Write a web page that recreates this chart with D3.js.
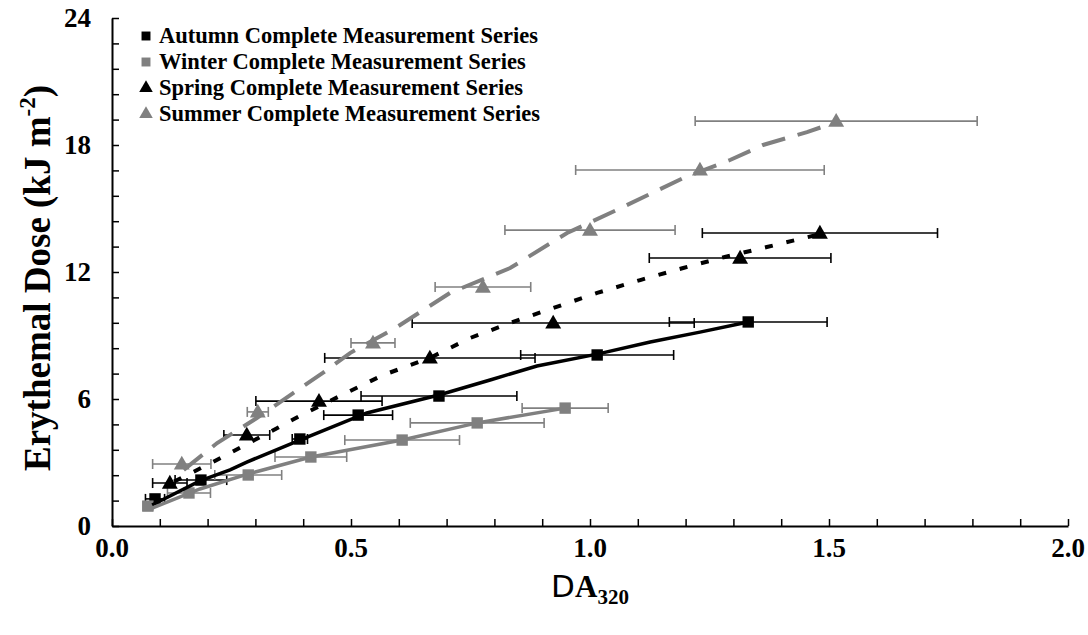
<!DOCTYPE html>
<html>
<head>
<meta charset="utf-8">
<script src="https://cdn.jsdelivr.net/npm/d3@7"></script>
<style>
  body { margin: 0; background: #fff; }
  svg { display: block; }
  text { font-family: "Liberation Serif", "Times New Roman", serif; font-weight: bold; }
</style>
</head>
<body>
<svg id="chart" width="1088" height="635"></svg>
<script>
// ---- data (DA320, dose kJ m-2, horizontal error half width) ----
var autumnX   = [0.090, 0.186, 0.393, 0.515, 0.684, 1.015, 1.331];
var autumnY   = [1.28, 2.17, 4.11, 5.24, 6.14, 8.08, 9.64];
var autumnErr = [0.02, 0.054, 0.016, 0.072, 0.163, 0.16, 0.165];

var winterX   = [0.075, 0.161, 0.285, 0.416, 0.607, 0.764, 0.948];
var winterY   = [0.94, 1.56, 2.41, 3.26, 4.06, 4.87, 5.57];
var winterErr = [0.01, 0.045, 0.07, 0.075, 0.12, 0.14, 0.09];

var springX   = [0.121, 0.282, 0.433, 0.665, 0.923, 1.314, 1.481];
var springY   = [2.03, 4.30, 5.90, 7.94, 9.59, 12.66, 13.84];
var springErr = [0.036, 0.048, 0.132, 0.22, 0.295, 0.19, 0.246];

var summerX   = [0.146, 0.305, 0.546, 0.776, 1.000, 1.230, 1.515];
var summerY   = [2.93, 5.39, 8.65, 11.29, 13.98, 16.82, 19.13];
var summerErr = [0.061, 0.022, 0.046, 0.10, 0.178, 0.26, 0.295];

// complete measurement series curves
var autumnLine = [[0.084,0.99],[0.184,2.13],[0.247,2.65],[0.282,3.02],[0.393,4.06],[0.533,5.34],[0.684,6.19],
  [0.791,6.90],[0.889,7.56],[1.015,8.12],[1.126,8.69],[1.230,9.16],[1.331,9.64]];
var winterLine = [[0.079,0.80],[0.184,1.75],[0.285,2.46],[0.416,3.26],[0.607,4.06],[0.764,4.87],[0.948,5.57]];
var springLine = [[0.13,2.10],[0.211,3.02],[0.310,4.20],[0.393,5.20],[0.481,6.19],[0.567,7.13],[0.665,7.94],
  [0.749,8.88],[0.839,9.64],[0.923,10.30],[1.015,11.01],[1.105,11.62],[1.195,12.19],[1.282,12.71],
  [1.370,13.18],[1.481,13.79]];
var summerLine = [[0.15,2.65],[0.220,3.92],[0.303,5.10],[0.379,6.28],[0.441,7.23],[0.498,8.17],[0.596,9.40],
  [0.707,11.01],[0.833,12.19],[0.952,13.84],[1.056,14.93],[1.195,16.44],[1.293,17.29],[1.362,18.00],
  [1.454,18.61],[1.515,19.08]];

var xTickLabels = [0, 0.5, 1.0, 1.5, 2.0];
var yTickLabels = [0, 6, 12, 18, 24];
var legendNames = ["Autumn Complete Measurement Series", "Winter Complete Measurement Series",
  "Spring Complete Measurement Series", "Summer Complete Measurement Series"];

var grey = "#808080";

var svg = d3.select("#chart");
var xScale = d3.scaleLinear().domain([0, 2]).range([112, 1068]);
var yScale = d3.scaleLinear().domain([0, 24]).range([526, 18]);

function zip(xs, ys, es) {
  return xs.map(function(x, i) { return {x: x, y: ys[i], e: es[i]}; });
}

var series = [
  {name: legendNames[0], pts: zip(autumnX, autumnY, autumnErr), line: autumnLine, color: "#000", shape: "square", dash: null, lw: 3.5},
  {name: legendNames[1], pts: zip(winterX, winterY, winterErr), line: winterLine, color: grey, shape: "square", dash: null, lw: 3.5},
  {name: legendNames[2], pts: zip(springX, springY, springErr), line: springLine, color: "#000", shape: "triangle", dash: "8,14", lw: 4},
  {name: legendNames[3], pts: zip(summerX, summerY, summerErr), line: summerLine, color: grey, shape: "triangle", dash: "24,13", lw: 4}
];

// axes
var xAxis = d3.axisBottom(xScale).tickValues(d3.range(0, 2.01, 0.1)).tickSizeInner(-7).tickSizeOuter(0)
  .tickFormat(function() { return ""; });
var yAxis = d3.axisLeft(yScale).tickValues(d3.range(0, 24.01, 1.2)).tickSizeInner(-7).tickSizeOuter(0)
  .tickFormat(function() { return ""; });

var gx = svg.append("g").attr("transform", "translate(0,526)").call(xAxis);
var gy = svg.append("g").attr("transform", "translate(112,0)").call(yAxis);
[gx, gy].forEach(function(g) {
  g.select(".domain").attr("stroke", "#000").attr("stroke-width", 2);
  g.selectAll(".tick line").attr("stroke", "#000").attr("stroke-width", 1.5);
});

svg.append("g").selectAll("text").data(xTickLabels).enter().append("text")
  .attr("x", function(d) { return xScale(d); })
  .attr("y", 557)
  .attr("text-anchor", "middle")
  .attr("font-size", 27)
  .text(function(d) { return d3.format(".1f")(d); });

svg.append("g").selectAll("text").data(yTickLabels).enter().append("text")
  .attr("x", 91)
  .attr("y", function(d) { return yScale(d) + 9; })
  .attr("text-anchor", "end")
  .attr("font-size", 27)
  .text(function(d) { return d; });

// axis titles
var yt = svg.append("text")
  .attr("transform", "translate(50,278) rotate(-90)")
  .attr("text-anchor", "middle")
  .attr("font-size", 37);
yt.append("tspan").text("Erythemal Dose (kJ m");
yt.append("tspan").attr("font-size", 23).attr("dy", -15).text("-2");
yt.append("tspan").attr("dy", 15).text(")");

var xt = svg.append("text").attr("x", 590).attr("y", 597).attr("text-anchor", "middle").attr("font-size", 31);
xt.append("tspan").attr("font-family", "DejaVu Sans").attr("font-weight", "normal").text("D");
xt.append("tspan").text("A");
xt.append("tspan").attr("font-size", 21).attr("dy", 7).text("320");

// error bars
var capH = 5;
series.forEach(function(s) {
  var g = svg.append("g").attr("stroke", s.color).attr("stroke-width", 1.6);
  s.pts.forEach(function(p) {
    var y = yScale(p.y), x1 = xScale(p.x - p.e), x2 = xScale(p.x + p.e);
    g.append("line").attr("x1", x1).attr("x2", x2).attr("y1", y).attr("y2", y);
    g.append("line").attr("x1", x1).attr("x2", x1).attr("y1", y - capH).attr("y2", y + capH);
    g.append("line").attr("x1", x2).attr("x2", x2).attr("y1", y - capH).attr("y2", y + capH);
  });
});

// markers
var sq = d3.symbol().type(d3.symbolSquare).size(130);
var tri = d3.symbol().type(d3.symbolTriangle).size(110);
series.forEach(function(s) {
  svg.append("g").selectAll("path").data(s.pts).enter().append("path")
    .attr("d", s.shape == "square" ? sq : tri)
    .attr("transform", function(p) { return "translate(" + xScale(p.x) + "," + (yScale(p.y) + (s.shape == "triangle" ? 1 : 0)) + ")"; })
    .attr("fill", s.color);
});

// curves
var line = d3.line().x(function(d) { return xScale(d[0]); }).y(function(d) { return yScale(d[1]); });
series.forEach(function(s) {
  svg.append("path").datum(s.line)
    .attr("d", line)
    .attr("fill", "none")
    .attr("stroke", s.color)
    .attr("stroke-width", s.lw)
    .attr("stroke-dasharray", s.dash);
});

// legend
var lg = svg.append("g");
var lsq = d3.symbol().type(d3.symbolSquare).size(80);
var ltri = d3.symbol().type(d3.symbolTriangle).size(80);
series.forEach(function(s, i) {
  var y = 35 + i * 26;
  lg.append("path").attr("d", s.shape == "square" ? lsq : ltri)
    .attr("transform", "translate(146," + (y + 1) + ")")
    .attr("fill", s.color);
  lg.append("text").attr("x", 159).attr("y", y + 8).attr("font-size", 22.5).text(s.name);
});
</script>
</body>
</html>
